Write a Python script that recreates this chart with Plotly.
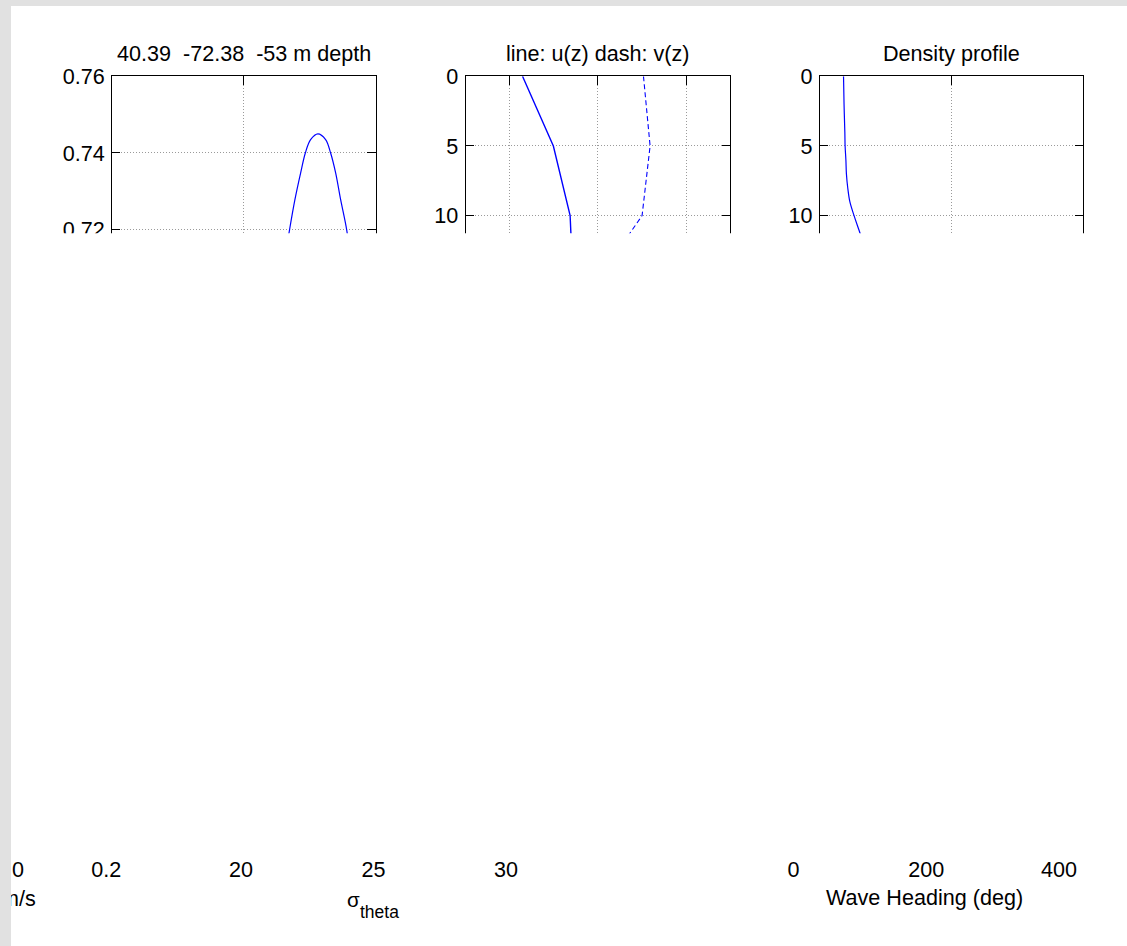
import plotly.graph_objects as go

W, H = 1127, 946

# ---------------- data ----------------
heading_deg = [260, 269.4, 277.5, 286.2, 293.3, 301.3, 312.4, 324.1, 331.7, 339.3, 346.9, 356.0, 364]
heading_val = [0.710, 0.720, 0.7278, 0.7348, 0.740, 0.7435, 0.745, 0.7435, 0.740, 0.7348, 0.7278, 0.720, 0.710]

depth_uv = [0, 5, 10, 15]
u_ms = [-0.171, -0.101, -0.063, -0.056]
v_ms = [0.1035, 0.1185, 0.1003, -0.009]

depth_rho = [0, 2, 4, 5, 6, 7, 8, 9, 10, 11, 12, 13]
sigma_theta = [20.90, 20.92, 20.95, 20.96, 20.99, 21.01, 21.06, 21.14, 21.30, 21.48, 21.66, 21.84]

panel_titles = ["40.39  -72.38  -53 m depth", "line: u(z) dash: v(z)", "Density profile"]

p1_xticks = [0, 200, 400]
p1_yticks = [0.70, 0.72, 0.74, 0.76]
p2_xticks = [-0.2, 0, 0.2]
p3_xticks = [20, 25, 30]
depth_ticks = [0, 5, 10, 15]

ms_ticks = [-0.2, 0, 0.2]
sig_ticks = [20, 25, 30]
wave_ticks = [0, 200, 400]

# ---------------- screen -> figure mapping ----------------
# the viewer shows the page slightly shrunk and offset; positions below are
# given in screen pixels and converted to figure pixels here
S, OX, OY = 0.973, 11.5, 12.3

def fpx(r):
    return (r - OX) / S

def fpy(r):
    return (r - OY) / S

def fx(r):
    return min(max(fpx(r) / W, 0), 1)

def fy(r):
    return min(max(1 - fpy(r) / H, 0), 1)

def ax(r):          # unclamped paper x (annotations may sit outside the paper)
    return fpx(r) / W

def ay(r):          # unclamped paper y
    return 1 - fpy(r) / H

def fs(size):
    return size / S

FONT = "Liberation Sans, Arial, Helvetica, sans-serif"
BLUE = "#0000ff"
GRAY = "#e1e1e1"

fig = go.Figure()

fig.add_trace(go.Scatter(x=heading_deg, y=heading_val, mode="lines", line=dict(color=BLUE, width=1.2, shape="spline"),
                         xaxis="x", yaxis="y", showlegend=False))
fig.add_trace(go.Scatter(x=u_ms, y=depth_uv, mode="lines", line=dict(color=BLUE, width=1.4),
                         xaxis="x2", yaxis="y2", showlegend=False))
fig.add_trace(go.Scatter(x=v_ms, y=depth_uv, mode="lines", line=dict(color=BLUE, width=1.1, dash="5px,3px"),
                         xaxis="x2", yaxis="y2", showlegend=False))
fig.add_trace(go.Scatter(x=sigma_theta, y=depth_rho, mode="lines", line=dict(color=BLUE, width=1.2, shape="spline"),
                         xaxis="x3", yaxis="y3", showlegend=False))
for k in (4, 5, 6):
    fig.add_trace(go.Scatter(x=[None], y=[None], mode="lines", xaxis=f"x{k}", yaxis=f"y{k}",
                             showlegend=False, hoverinfo="skip"))

common = dict(showline=True, linecolor="black", linewidth=1, mirror="ticks", ticks="inside", ticklen=fs(8),
              tickcolor="black", tickwidth=1, showgrid=True, gridcolor="#9a9a9a", griddash="1px,2px",
              gridwidth=1, zeroline=False, tickfont=dict(family=FONT, size=fs(21), color="black"),
              fixedrange=True)

top_r = 76.6
p1_bottom_r = top_r + 6 * 38.3
p23_bottom_r = top_r + 15 * 13.92

layout = dict(
    width=W, height=H, margin=dict(l=0, r=0, t=0, b=0),
    paper_bgcolor="white", plot_bgcolor="white",
    font=dict(family=FONT, size=fs(21), color="black"),
    showlegend=False,
    xaxis=dict(common, domain=[fx(111.5), fx(375)], range=[0, 400], tickvals=p1_xticks, showticklabels=False, anchor="y"),
    yaxis=dict(common, domain=[fy(p1_bottom_r), fy(top_r)], range=[0.70, 0.76], tickvals=p1_yticks, tickformat=".2f",
               ticklabelstandoff=2, anchor="x"),
    xaxis2=dict(common, domain=[fx(465), fx(729.3)], range=[-0.3, 0.3], tickvals=p2_xticks, showticklabels=False, anchor="y2"),
    yaxis2=dict(common, domain=[fy(p23_bottom_r), fy(top_r)], range=[15, 0], tickvals=depth_ticks,
                ticklabelstandoff=2, anchor="x2"),
    xaxis3=dict(common, domain=[fx(819), fx(1082.3)], range=[20, 30], tickvals=p3_xticks, showticklabels=False, anchor="y3"),
    yaxis3=dict(common, domain=[fy(p23_bottom_r), fy(top_r)], range=[15, 0], tickvals=depth_ticks,
                ticklabelstandoff=2, anchor="x3"),
)

# bottom row: tick labels of lower axes (no lines)
bottom_common = dict(showline=False, showgrid=False, zeroline=False, ticks="", showticklabels=True,
                     tickfont=dict(family=FONT, size=fs(21), color="black"), fixedrange=True)
ydom = [fy(854), fy(848)]
ms_zero_r, ms_px_per_unit, ms_right_r = 17.5, 440.5, 149.5
layout["xaxis4"] = dict(bottom_common, domain=[0, fx(ms_right_r)],
                        range=[(OX - ms_zero_r) / ms_px_per_unit, (ms_right_r - ms_zero_r) / ms_px_per_unit],
                        tickvals=ms_ticks, ticktext=["-0.2", "0", "0.2"], anchor="y4")
layout["xaxis5"] = dict(bottom_common, domain=[fx(240.5), fx(505.2)], range=[20, 30], tickvals=sig_ticks, anchor="y5")
layout["xaxis6"] = dict(bottom_common, domain=[fx(792.6), fx(1058)], range=[0, 400], tickvals=wave_ticks, anchor="y6")
for k in (4, 5, 6):
    layout[f"yaxis{k}"] = dict(domain=ydom, visible=False, range=[0, 1], anchor=f"x{k}", fixedrange=True)

fig.update_layout(**layout)

# white cover over the region that was never drawn
fig.add_shape(type="rect", xref="paper", yref="paper", x0=0, x1=1, y0=fy(846), y1=fy(233.5),
              fillcolor="white", line=dict(width=0), layer="above")

# annotations: titles and axis labels
title_centers = [243.2, 597.2, 950.6]
for t, cx in zip(panel_titles, title_centers):
    fig.add_annotation(text=t, x=fx(cx), y=fy(53.7), xref="paper", yref="paper", xanchor="center",
                       yanchor="middle", showarrow=False, font=dict(family=FONT, size=fs(21), color="black"))

fig.add_annotation(text="m/s", x=ax(17.5), y=fy(898.5), xref="paper", yref="paper", xanchor="center",
                   yanchor="middle", showarrow=False, font=dict(family=FONT, size=fs(21), color="black"))
fig.add_annotation(text="σ", x=fx(345.5), y=fy(899), xref="paper", yref="paper", xanchor="left",
                   yanchor="middle", showarrow=False, borderpad=0, font=dict(family=FONT, size=fs(20), color="black"))
fig.add_annotation(text="theta", x=fx(358.5), y=fy(911.5), xref="paper", yref="paper", xanchor="left",
                   yanchor="middle", showarrow=False, borderpad=0, font=dict(family=FONT, size=fs(17), color="black"))
fig.add_annotation(text="Wave Heading (deg)", x=fx(923.5), y=fy(897.5), xref="paper", yref="paper",
                   xanchor="center", yanchor="middle", showarrow=False,
                   font=dict(family=FONT, size=fs(21), color="black"))

# grey window frame: top strip and left strip (left one drawn last, over the clipped "m/s")
fig.add_annotation(text=" ", x=ax(0), y=ay(0), xref="paper", yref="paper", xanchor="left", yanchor="top",
                   width=fs(1127), height=fs(6), bgcolor=GRAY, borderpad=0, borderwidth=0, showarrow=False,
                   font=dict(size=4))
fig.add_annotation(text=" ", x=ax(0), y=ay(0), xref="paper", yref="paper", xanchor="left", yanchor="top",
                   width=fs(11), height=fs(946), bgcolor=GRAY, borderpad=0, borderwidth=0, showarrow=False,
                   font=dict(size=4))

fig.write_html("out.html")
